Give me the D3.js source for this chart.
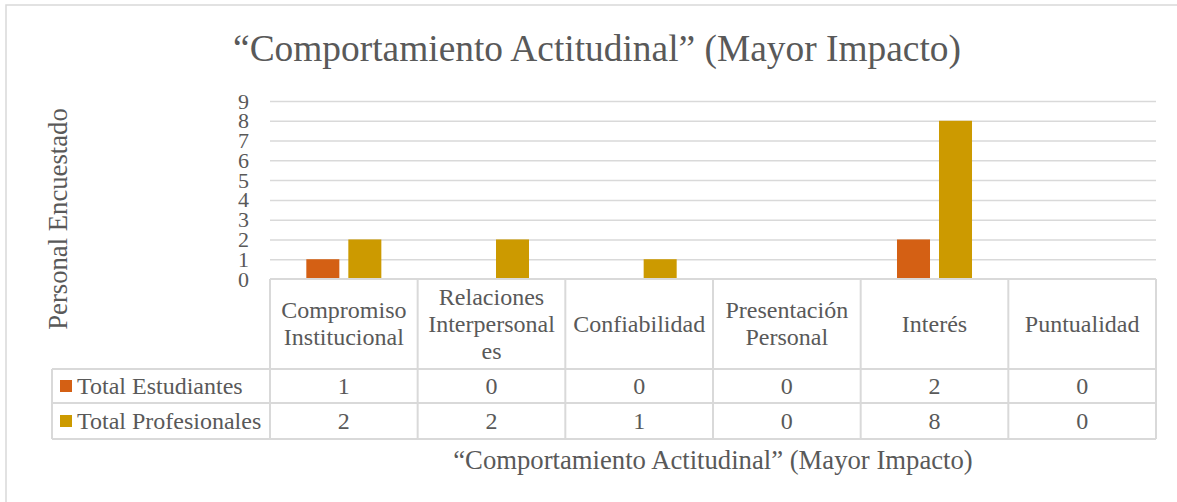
<!DOCTYPE html>
<html>
<head>
<meta charset="utf-8">
<script src="https://cdn.jsdelivr.net/npm/d3@7"></script>
<style>
  body { margin: 0; background: #fff; }
  svg text { font-family: 'Liberation Serif', 'Tinos', 'DejaVu Serif', serif !important; fill: #595959; }
</style>
</head>
<body>
<svg id="chart"></svg>
<script>
// data
const categories = ["Compromiso Institucional", "Relaciones Interpersonales", "Confiabilidad",
                    "Presentación Personal", "Interés", "Puntualidad"];
const categoryLines = [["Compromiso", "Institucional"], ["Relaciones", "Interpersonal", "es"],
                       ["Confiabilidad"], ["Presentación", "Personal"], ["Interés"], ["Puntualidad"]];
const seriesNames = ["Total Estudiantes", "Total Profesionales"];
const estudiantes = [1, 0, 0, 0, 2, 0];
const profesionales = [2, 2, 1, 0, 8, 0];
const yTicks = [0, 1, 2, 3, 4, 5, 6, 7, 8, 9];
const colors = ["#D46014", "#CC9A00"];

const width = 1177, height = 502;
const grid = "#D9D9D9";
const serif = "'Liberation Serif', 'DejaVu Serif', serif";
const plotLeft = 270, plotRight = 1156, plotTop = 101, plotBottom = 279;
const tableLeft = 52, row1 = 369, row2 = 403, row3 = 439;

const svg = d3.select("#chart").attr("width", width).attr("height", height)
  .attr("font-family", serif);

// outer frame
svg.append("rect")
  .attr("x", 6).attr("y", 5)
  .attr("width", width + 10).attr("height", height + 10)
  .attr("fill", "none").attr("stroke", grid).attr("stroke-width", 1.5);

const x = d3.scaleBand().domain(categories).range([plotLeft, plotRight]).padding(0);
const y = d3.scaleLinear().domain([0, 9]).range([plotBottom, plotTop]);

const groupW = x.bandwidth() * 0.508;
const xs = d3.scaleBand().domain(seriesNames).range([0, groupW]).paddingInner(0.214).paddingOuter(0);

// gridlines
svg.append("g")
  .attr("transform", "translate(" + plotLeft + ",0)")
  .call(d3.axisLeft(y).tickValues(yTicks.slice(1)).tickSize(-(plotRight - plotLeft)).tickFormat(""))
  .call(g => g.select(".domain").remove())
  .selectAll("line").attr("stroke", grid).attr("stroke-width", 1.5);

// y tick labels
svg.append("g")
  .attr("transform", "translate(" + plotLeft + ",0)")
  .call(d3.axisLeft(y).tickValues(yTicks).tickSize(0).tickPadding(21))
  .attr("font-family", serif)
  .attr("font-size", 22)
  .call(g => g.select(".domain").remove())
  .selectAll("text")
    .attr("fill", "#595959");

// bars
const series = [estudiantes, profesionales];
series.forEach((vals, si) => {
  svg.append("g").selectAll("rect")
    .data(vals)
    .enter()
      .append("rect")
      .attr("x", (d, i) => x(categories[i]) + (x.bandwidth() - groupW) / 2 + xs(seriesNames[si]))
      .attr("y", d => y(d))
      .attr("width", xs.bandwidth())
      .attr("height", d => y(0) - y(d))
      .attr("fill", colors[si]);
});

// data table lines
const tbl = svg.append("g").attr("stroke", grid).attr("stroke-width", 2).attr("fill", "none");
tbl.append("line").attr("x1", plotLeft).attr("x2", plotRight).attr("y1", plotBottom).attr("y2", plotBottom);
tbl.append("line").attr("x1", tableLeft).attr("x2", plotRight).attr("y1", row1).attr("y2", row1);
tbl.append("line").attr("x1", tableLeft).attr("x2", plotRight).attr("y1", row2).attr("y2", row2);
tbl.append("line").attr("x1", tableLeft).attr("x2", plotRight).attr("y1", row3).attr("y2", row3);
tbl.append("line").attr("x1", tableLeft).attr("x2", tableLeft).attr("y1", row1).attr("y2", row3);
tbl.selectAll(".v")
  .data(categories.concat(["end"]))
  .enter()
    .append("line")
    .attr("x1", (d, i) => i < categories.length ? x(d) : plotRight)
    .attr("x2", (d, i) => i < categories.length ? x(d) : plotRight)
    .attr("y1", plotBottom).attr("y2", row3);

// category headers
const lineH = 27;
const hdrMid = (plotBottom + row1) / 2;
categories.forEach((c, i) => {
  const lines = categoryLines[i];
  const t = svg.append("text")
    .attr("text-anchor", "middle")
    .attr("font-size", 24);
  lines.forEach((ln, j) => {
    t.append("tspan")
      .attr("x", x(c) + x.bandwidth() / 2)
      .attr("y", hdrMid + (j - (lines.length - 1) / 2) * lineH)
      .attr("dy", "0.33em")
      .text(ln);
  });
});

// table values + legend
const rowMid = [(row1 + row2) / 2, (row2 + row3) / 2];
series.forEach((vals, si) => {
  svg.append("g").selectAll("text")
    .data(vals)
    .enter()
      .append("text")
      .attr("x", (d, i) => x(categories[i]) + x.bandwidth() / 2)
      .attr("y", rowMid[si])
      .attr("dy", "0.33em")
      .attr("text-anchor", "middle")
      .attr("font-size", 24)
      .text(d => d);

  svg.append("rect")
    .attr("x", 60).attr("y", rowMid[si] - 6)
    .attr("width", 12).attr("height", 12)
    .attr("fill", colors[si]);

  svg.append("text")
    .attr("x", 77).attr("y", rowMid[si])
    .attr("dy", "0.33em")
    .attr("font-size", 24)
    .text(seriesNames[si]);
});

// titles
svg.append("text")
  .attr("x", 597).attr("y", 61)
  .attr("text-anchor", "middle")
  .attr("font-size", 37.4)
  .text("“Comportamiento Actitudinal” (Mayor Impacto)");

svg.append("text")
  .attr("x", (plotLeft + plotRight) / 2).attr("y", 469)
  .attr("text-anchor", "middle")
  .attr("font-size", 26.7)
  .text("“Comportamiento Actitudinal” (Mayor Impacto)");

svg.append("text")
  .attr("transform", "translate(67,219) rotate(-90)")
  .attr("text-anchor", "middle")
  .attr("font-size", 26.7)
  .text("Personal Encuestado");
</script>
</body>
</html>
